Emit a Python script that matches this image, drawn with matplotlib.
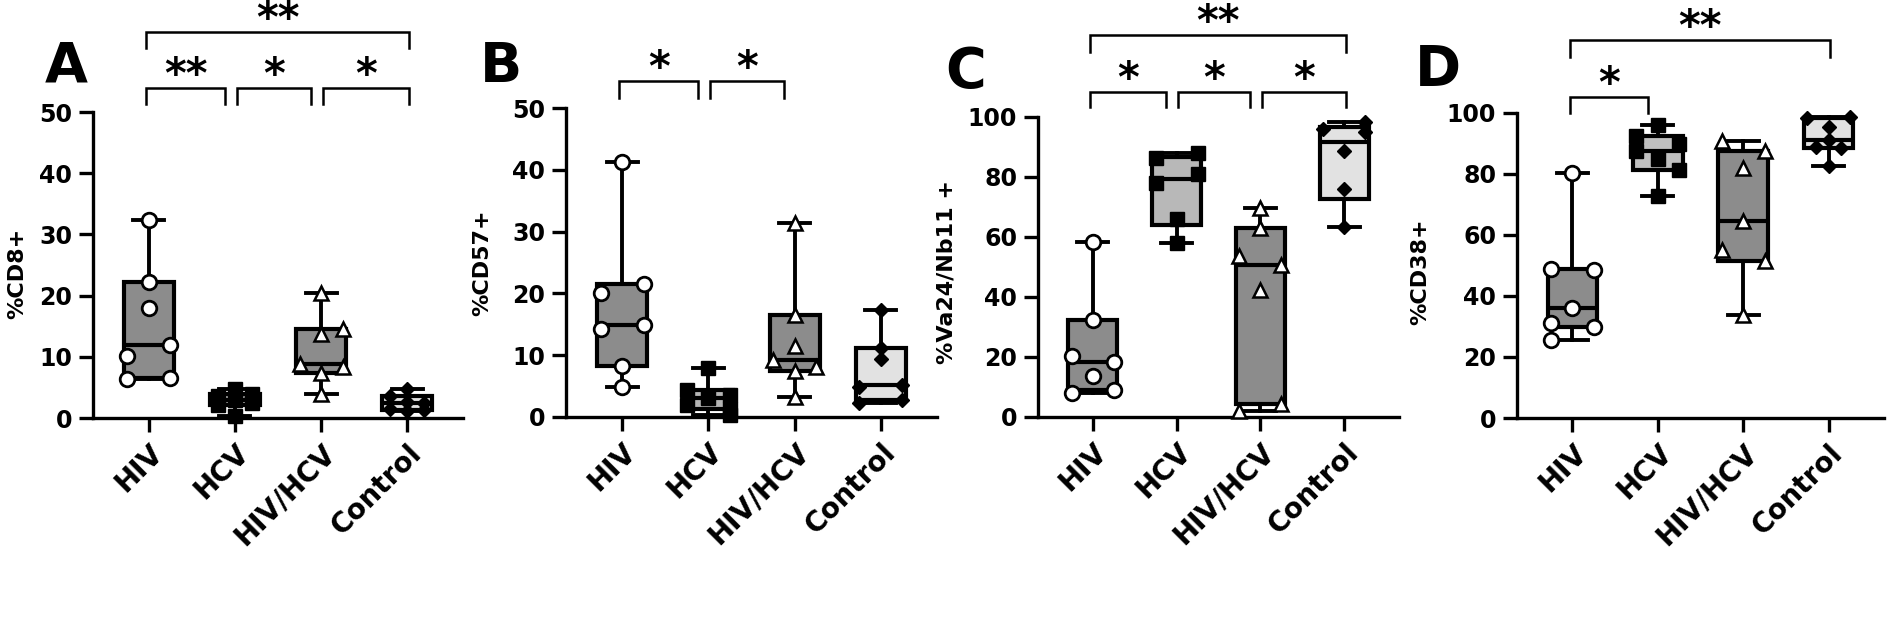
import numpy as np
import matplotlib
matplotlib.use("Agg")
import matplotlib.pyplot as plt
import matplotlib.transforms as mtransforms

groups = ["HIV", "HCV", "HIV/HCV", "Control"]

# Panel A - %CD8+
cd8_hiv = [32.4, 22.3, 17.9, 12.0, 10.1, 6.3, 6.5]
cd8_hcv = [4.8, 4.0, 3.6, 2.9, 2.5, 2.1, 0.3]
cd8_coinf = [20.4, 14.6, 13.8, 8.9, 8.4, 7.3, 4.0]
cd8_ctrl = [4.8, 3.6, 2.6, 2.4, 1.5, 1.3, 1.2]

# Panel B - %CD57+
cd57_hiv = [41.2, 21.5, 20.0, 14.9, 14.3, 8.3, 4.9]
cd57_hcv = [8.0, 4.3, 3.6, 3.0, 2.0, 1.3, 0.3]
cd57_coinf = [31.4, 16.5, 11.5, 9.2, 8.1, 7.4, 3.2]
cd57_ctrl = [17.3, 11.1, 9.4, 5.2, 4.8, 2.7, 2.3]

# Panel C - %Va24/Vb11+
nkt_hiv = [58.3, 32.2, 20.4, 18.4, 13.6, 9.1, 8.0]
nkt_hcv = [88.1, 86.3, 81.0, 78.0, 66.0, 58.0]
nkt_coinf = [69.7, 63.0, 53.8, 50.8, 42.4, 4.2, 2.0]
nkt_ctrl = [98.2, 96.0, 95.0, 88.6, 76.0, 63.2]

# Panel D - %CD38+
cd38_hiv = [80.2, 49.0, 48.5, 36.1, 31.1, 30.0, 25.7]
cd38_hcv = [96.2, 92.6, 90.0, 87.5, 85.0, 81.2, 72.7]
cd38_coinf = [90.7, 87.4, 82.0, 64.5, 55.2, 51.4, 33.9]
cd38_ctrl = [98.8, 98.3, 95.4, 91.3, 89.0, 88.5, 82.5]

# significance: (group i, group j, level, label)
sig_a = [(0, 1, 0, "**"), (1, 2, 0, "*"), (2, 3, 0, "*"), (0, 3, 1, "**")]
sig_b = [(0, 1, 0, "*"), (1, 2, 0, "*")]
sig_c = [(0, 1, 0, "*"), (1, 2, 0, "*"), (2, 3, 0, "*"), (0, 3, 1, "**")]
sig_d = [(0, 1, 0, "*"), (0, 3, 1, "**")]

# horizontal point spread inside each box (layout only)
spread = {
    "A": [[0, 0, 0, 0.25, -0.25, -0.25, 0.25], [0, 0.2, -0.2, 0, 0.2, -0.2, 0],
          [0, 0.25, 0, -0.25, 0.25, 0, 0], [0, -0.2, 0, 0.2, -0.2, 0.2, 0]],
    "B": [[0, 0.25, -0.25, 0.25, -0.25, 0, 0], [0, -0.25, 0.25, 0, -0.25, 0.25, 0.25],
          [0, 0, 0, -0.25, 0.25, 0, 0], [0, 0, 0, 0.25, -0.25, 0.25, -0.25]],
    "C": [[0, 0, -0.25, 0.25, 0, 0.25, -0.25], [0.25, -0.25, 0.25, -0.25, 0, 0],
          [0, 0, -0.25, 0.25, 0, 0.25, -0.25], [0.25, -0.25, 0.25, 0, 0, 0]],
    "D": [[0, -0.25, 0.25, 0, -0.25, 0.25, -0.25], [0, -0.25, 0.25, -0.25, 0, 0.25, 0],
          [-0.25, 0.25, 0, 0, -0.25, 0.25, 0], [0.25, -0.25, 0, 0, -0.15, 0.15, 0]],
}

box_fill = {
    "A": ["#8c8c8c", "#b5b5b5", "#8c8c8c", "#e2e2e2"],
    "B": ["#8c8c8c", "#b5b5b5", "#8c8c8c", "#e2e2e2"],
    "C": ["#8c8c8c", "#b8b8b8", "#8c8c8c", "#e2e2e2"],
    "D": ["#8c8c8c", "#c0c0c0", "#8c8c8c", "#e2e2e2"],
}

markers = [
    dict(marker="o", mfc="white", mec="black", ms=10.5, mew=2.0),
    dict(marker="s", mfc="black", mec="black", ms=10, mew=1),
    dict(marker="^", mfc="white", mec="black", ms=9.5, mew=1.8),
    dict(marker="D", mfc="black", mec="black", ms=7, mew=1),
]

W, H = 1890, 628
fig = plt.figure(figsize=(W / 100, H / 100), dpi=100)
plt.rcParams["font.family"] = "DejaVu Sans"
plt.rcParams["font.weight"] = "bold"

panels = [
    ("A", [cd8_hiv, cd8_hcv, cd8_coinf, cd8_ctrl], 50, 10, "%CD8+", sig_a,
     (93, 463, 112, 418), (45, 40), (17, 273), (1.078, 1.026, 1.261, 1.209)),
    ("B", [cd57_hiv, cd57_hcv, cd57_coinf, cd57_ctrl], 50, 10, "%CD57+", sig_b,
     (566, 937, 108, 417), (480, 40), (482, 263), (1.087, 1.032, 1.27, 1.215)),
    ("C", [nkt_hiv, nkt_hcv, nkt_coinf, nkt_ctrl], 100, 20, "%Va24/Nb11 +", sig_c,
     (1038, 1399, 117, 417), (945, 45), (947, 272), (1.083, 1.033, 1.273, 1.217)),
    ("D", [cd38_hiv, cd38_hcv, cd38_coinf, cd38_ctrl], 100, 20, "%CD38+", sig_d,
     (1517, 1884, 113, 418), (1415, 43), (1420, 272), (1.052, 1.0, 1.239, 1.184)),
]


def box_stats(vals):
    v = np.asarray(vals, dtype=float)
    q1, med, q3 = np.percentile(v, [25, 50, 75], method="weibull")
    return dict(med=med, q1=q1, q3=q3, whislo=v.min(), whishi=v.max(), fliers=[])


for key, data, ymax, ystep, ylabel, sigs, rect, letter_xy, ylab_xy, brk in panels:
    x0, x1, ytop, ybot = rect
    ax = fig.add_axes([x0 / W, 1 - ybot / H, (x1 - x0) / W, (ybot - ytop) / H])
    ax.set_xlim(-0.65, 3.65)
    ax.set_ylim(0, ymax)

    bp = ax.bxp([box_stats(d) for d in data], positions=range(4), widths=0.58,
                patch_artist=True, showfliers=False, capwidths=0.36,
                boxprops=dict(linewidth=3.0, edgecolor="black"),
                whiskerprops=dict(linewidth=2.8, color="black"),
                capprops=dict(linewidth=2.8, color="black"),
                medianprops=dict(linewidth=3.0, color="black"))
    for patch, fc in zip(bp["boxes"], box_fill[key]):
        patch.set_facecolor(fc)
        patch.set_zorder(2)

    for i, vals in enumerate(data):
        xs = i + np.array(spread[key][i][:len(vals)])
        ax.plot(xs, vals, linestyle="none", zorder=5, clip_on=False, **markers[i])

    for s in ["top", "right"]:
        ax.spines[s].set_visible(False)
    for s in ["left", "bottom"]:
        ax.spines[s].set_linewidth(2.4)
    ax.set_yticks(np.arange(0, ymax + 1, ystep))
    ax.set_xticks(range(4))
    ax.tick_params(axis="both", direction="out", length=10, width=2.4, labelsize=17, pad=5)
    ax.set_xticklabels(groups, rotation=45, ha="right", va="top", rotation_mode="anchor",
                       fontweight="bold", fontsize=20)
    for lab in ax.get_yticklabels():
        lab.set_fontweight("bold")

    trans = mtransforms.blended_transform_factory(ax.transData, ax.transAxes)
    lo_top, lo_leg, hi_top, hi_leg = brk
    for i, j, level, txt in sigs:
        top, leg = (lo_top, lo_leg) if level == 0 else (hi_top, hi_leg)
        xa = i - 0.03 if i == 0 else i + 0.02
        xb = j + 0.02 if j == 3 else j - 0.12
        ax.plot([xa, xa, xb, xb], [leg, top, top, leg], transform=trans, color="black",
                lw=1.8, clip_on=False, solid_joinstyle="miter")
        ax.text((xa + xb) / 2, top, txt, transform=trans, ha="center", va="baseline",
                fontsize=30, fontweight="bold", clip_on=False)

    fig.text(letter_xy[0] / W, 1 - letter_xy[1] / H, key, ha="left", va="top",
             fontsize=40, fontweight="heavy")
    fig.text(ylab_xy[0] / W, 1 - ylab_xy[1] / H, ylabel, rotation=90, ha="center",
             va="center", fontsize=16, fontweight="bold")

fig.savefig("out.png", dpi=100)
